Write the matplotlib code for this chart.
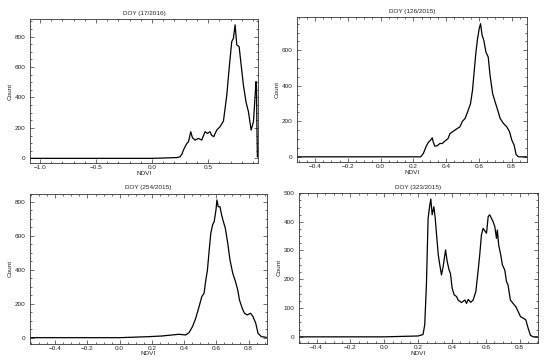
import matplotlib
matplotlib.use("Agg")
import matplotlib.pyplot as plt
from matplotlib.ticker import MultipleLocator, AutoMinorLocator

plt.rcParams['font.family'] = ['Liberation Sans', 'DejaVu Sans']
plt.rcParams['text.color'] = '#222222'
plt.rcParams['axes.labelcolor'] = '#222222'
plt.rcParams['xtick.labelcolor'] = '#222222'
plt.rcParams['ytick.labelcolor'] = '#222222'

# NDVI histograms, values
titles = ['DOY (17/2016)', 'DOY (126/2015)', 'DOY (254/2015)', 'DOY (323/2015)']

ndvi_17 = [-1.09, 0.0, 0.22, 0.25, 0.265, 0.28, 0.31, 0.325, 0.345, 0.36,
           0.384, 0.414, 0.443, 0.473, 0.494, 0.518, 0.53, 0.55, 0.577, 0.607,
           0.637, 0.667, 0.688, 0.711, 0.726, 0.741, 0.756, 0.777, 0.795, 0.815,
           0.839, 0.86, 0.884, 0.905, 0.92, 0.928, 0.932, 0.936, 0.94]
count_17 = [0, 0, 5, 10, 26, 55, 98, 109, 175, 136,
            120, 131, 120, 175, 164, 175, 153, 142, 186, 208,
            245, 416, 592, 767, 789, 877, 745, 734, 614, 482,
            368, 307, 186, 241, 416, 504, 480, 200, 10]

ndvi_126 = [-0.51, 0.0, 0.245, 0.261, 0.277, 0.291, 0.305, 0.315, 0.321, 0.331,
            0.345, 0.362, 0.376, 0.392, 0.412, 0.423, 0.439, 0.453, 0.467, 0.484,
            0.5, 0.516, 0.535, 0.549, 0.561, 0.571, 0.582, 0.592, 0.602, 0.61,
            0.62, 0.63, 0.643, 0.657, 0.668, 0.684, 0.699, 0.715, 0.73, 0.75,
            0.77, 0.787, 0.801, 0.815, 0.827, 0.842, 0.893]
count_126 = [0, 0, 0, 19, 56, 81, 94, 107, 85, 60,
             62, 75, 75, 88, 103, 131, 141, 150, 159, 169,
             201, 216, 263, 300, 375, 478, 590, 666, 722, 750,
             684, 656, 590, 562, 460, 356, 309, 263, 216, 188,
             169, 141, 94, 66, 13, 0, 0]

ndvi_254 = [-0.557, 0.0, 0.18, 0.263, 0.326, 0.368, 0.41, 0.431, 0.452, 0.472,
            0.493, 0.51, 0.524, 0.535, 0.545, 0.556, 0.566, 0.577, 0.587, 0.598,
            0.604, 0.612, 0.623, 0.633, 0.644, 0.656, 0.671, 0.685, 0.702, 0.719,
            0.733, 0.744, 0.761, 0.775, 0.792, 0.813, 0.828, 0.845, 0.859, 0.88,
            0.91]
count_254 = [0, 0, 6, 10, 16, 20, 16, 30, 65, 114,
             183, 242, 262, 340, 399, 517, 616, 665, 684, 753,
             812, 772, 772, 723, 684, 645, 557, 458, 380, 331,
             282, 222, 173, 144, 134, 144, 124, 85, 26, 6,
             2]

ndvi_323 = [-0.504, 0.0, 0.2, 0.229, 0.239, 0.249, 0.259, 0.269, 0.275, 0.283,
            0.293, 0.301, 0.309, 0.319, 0.328, 0.338, 0.348, 0.362, 0.372, 0.383,
            0.391, 0.401, 0.413, 0.427, 0.436, 0.456, 0.476, 0.486, 0.496, 0.511,
            0.525, 0.541, 0.554, 0.564, 0.574, 0.584, 0.594, 0.604, 0.614, 0.623,
            0.633, 0.643, 0.653, 0.663, 0.668, 0.676, 0.688, 0.698, 0.712, 0.722,
            0.731, 0.745, 0.761, 0.777, 0.791, 0.805, 0.821, 0.836, 0.85, 0.864,
            0.88, 0.908]
count_323 = [0, 0, 3, 8, 42, 181, 412, 458, 479, 424,
             452, 412, 354, 285, 250, 215, 245, 302, 261, 232,
             220, 169, 146, 140, 128, 119, 128, 116, 130, 120,
             128, 157, 227, 285, 354, 377, 368, 360, 418, 424,
             412, 400, 383, 342, 371, 319, 285, 250, 232, 192,
             181, 128, 116, 105, 88, 70, 65, 59, 30, 5,
             0, 0]

xdata = [ndvi_17, ndvi_126, ndvi_254, ndvi_323]
ydata = [count_17, count_126, count_254, count_323]

# axes boxes in figure fractions and axis ranges
boxes = [[0.0545, 0.552, 0.4145, 0.396],
         [0.540, 0.555, 0.418, 0.398],
         [0.0545, 0.056, 0.431, 0.412],
         [0.5436, 0.058, 0.4345, 0.412]]
xlims = [(-1.09, 0.945), (-0.51, 0.893), (-0.557, 0.915), (-0.504, 0.908)]
ylims = [(-31, 916), (-29, 787), (-35, 849), (-21, 500)]
xsteps = [0.5, 0.2, 0.2, 0.2]
xminor = [5, 4, 4, 4]
ysteps = [200, 200, 200, 100]

fig = plt.figure(figsize=(5.5, 3.64), dpi=100)

for i in range(4):
    ax = fig.add_axes(boxes[i])
    ax.plot(xdata[i], ydata[i], color='black', lw=0.9)
    ax.set_xlim(xlims[i])
    ax.set_ylim(ylims[i])
    ax.xaxis.set_major_locator(MultipleLocator(xsteps[i]))
    ax.xaxis.set_minor_locator(AutoMinorLocator(xminor[i]))
    ax.yaxis.set_major_locator(MultipleLocator(ysteps[i]))
    ax.yaxis.set_minor_locator(AutoMinorLocator(4))
    ax.tick_params(which='both', direction='in', top=True, right=True,
                   width=0.5, color='#333333')
    ax.tick_params(which='major', length=3)
    ax.tick_params(which='minor', length=1.6)
    ax.tick_params(axis='x', labelsize=4.6, pad=1.5)
    ax.tick_params(axis='y', labelsize=4.6, pad=3)
    for s in ax.spines.values():
        s.set_linewidth(0.6)
        s.set_color('#333333')
    ax.set_title(titles[i], fontsize=4.6, pad=3)
    ax.set_xlabel('NDVI', fontsize=4.6, labelpad=0.5)
    ax.set_ylabel('Count', fontsize=4.6, labelpad=1.5)

fig.savefig('out.png', dpi=100)
